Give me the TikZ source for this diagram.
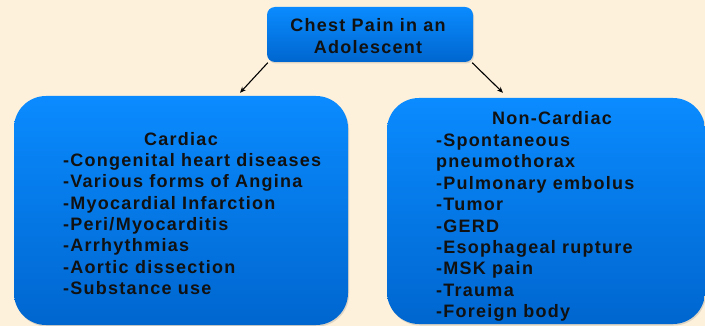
\documentclass[tikz,border=0pt]{standalone}
\usepackage{fontspec}
\newfontfamily\boxfont{Liberation Sans}[LetterSpace=7]
\usetikzlibrary{shadows,arrows.meta}
\definecolor{bgcream}{HTML}{FDF1DC}
\definecolor{boxtop}{HTML}{0A8BFF}
\definecolor{boxbot}{HTML}{0066CF}
\definecolor{ink}{HTML}{111111}
\tikzset{
  bluebox/.style={draw=none, top color=boxtop, bottom color=boxbot, inner sep=0pt,
    drop shadow={opacity=0.25, shadow xshift=1pt, shadow yshift=-1.5pt}},
  txt/.style={font=\boxfont\bfseries\fontsize{18}{22}\selectfont, text=ink, inner sep=0pt},
  item/.style={txt, anchor=base west},
  arr/.style={-{Stealth[length=6pt,width=5pt]}, line width=1.1pt, black}
}
\begin{document}
\begin{tikzpicture}[x=1pt,y=-1pt]
\fill[bgcream] (0,0) rectangle (705,326);
\useasboundingbox (0,0) rectangle (705,326);
\node[bluebox, rounded corners=8pt, minimum width=206pt, minimum height=55pt] (top) at (370,34.5) {};
\node[txt, align=center] (toptext) at (368,36.5) {Chest Pain in an\\Adolescent};
\node[bluebox, rounded corners=32pt, minimum width=334pt, minimum height=229pt] (left) at (181,210.5) {};
\node[bluebox, rounded corners=32pt, minimum width=318pt, minimum height=226pt] (right) at (546,211) {};
\draw[arr] ([xshift=1pt,yshift=-0.5pt]top.south west) -- ([xshift=59pt,yshift=3pt]left.north);
\draw[arr] ([xshift=-1pt,yshift=-0.5pt]top.south east) -- ([xshift=-43pt,yshift=5pt]right.north);
\node[txt, anchor=base] (lh) at (181,145.5) {Cardiac};
\foreach \t [count=\i] in {-Congenital heart diseases,-Various forms of Angina,-Myocardial Infarction,-Peri/Myocarditis,-Arrhythmias,-Aortic dissection,-Substance use}
  \node[item] (c\i) at (63,166.5+21.3*\i-21.3) {\t};
\node[txt, anchor=base] (rh) at (552,124.5) {Non-Cardiac};
\foreach \t [count=\i] in {-Spontaneous,pneumothorax,-Pulmonary embolus,-Tumor,-GERD,-Esophageal rupture,-MSK pain,-Trauma,-Foreign body}
  \node[item] (n\i) at (436,146.5+21.4*\i-21.4) {\t};
\end{tikzpicture}
\end{document}
